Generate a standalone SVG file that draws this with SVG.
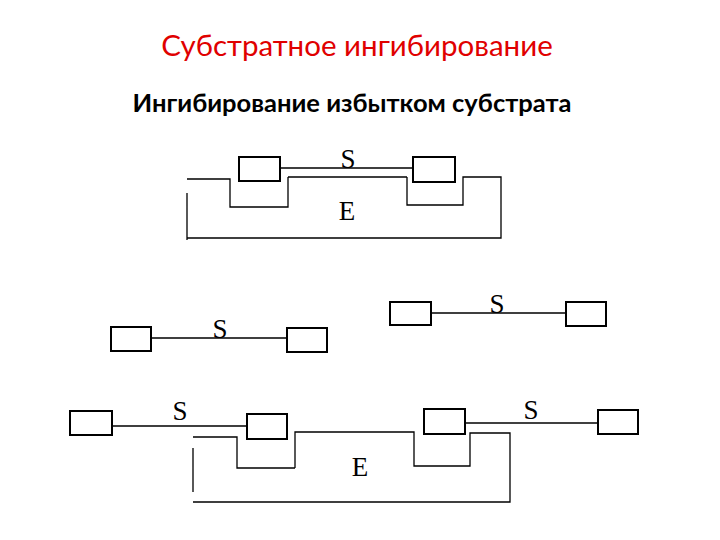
<svg xmlns="http://www.w3.org/2000/svg" width="720" height="540" viewBox="0 0 720 540">
<style>
.b{fill:#fff;stroke:#000;stroke-width:2}
.l{fill:none;stroke:#000;stroke-width:1.3}
.s{font-family:"Liberation Serif",serif;font-size:27px;fill:#000;text-anchor:middle}
</style>
<rect width="720" height="540" fill="#fff"/>
<text x="357" y="56" font-family="Lato,sans-serif" font-size="29.5" fill="#e00000" text-anchor="middle">Субстратное ингибирование</text>
<text x="352" y="112" font-family="Lato,sans-serif" font-size="25.5" font-weight="bold" fill="#000" text-anchor="middle">Ингибирование избытком субстрата</text>
<g id="connectors">
<path class="l" d="M280 168H413M288 177H407M300 177H320M187 179H230V207H288V177M407 177V205H463V177H501V238H187M187 193V240"/>
<path class="l" d="M151 338H287M431 313H566"/>
<path class="l" d="M112 426H247M295 468V432H414V466H470V433H510V502H193M193 448V492M193 437H237V468H295"/>
<path class="l" d="M465 423H600"/>
</g>
<g id="n1"><rect class="b" x="239" y="157" width="41" height="24"/></g>
<g id="n2"><rect class="b" x="413" y="157" width="42" height="25"/></g>
<g id="n3"><rect class="b" x="111" y="327" width="40" height="24"/></g>
<g id="n4"><rect class="b" x="287" y="328" width="40" height="24"/></g>
<g id="n5"><rect class="b" x="390" y="302" width="41" height="23"/></g>
<g id="n6"><rect class="b" x="566" y="302" width="40" height="24"/></g>
<g id="n7"><rect class="b" x="70" y="411" width="42" height="24"/></g>
<g id="n8"><rect class="b" x="247" y="414" width="40" height="25"/></g>
<g id="n9"><rect class="b" x="424" y="409" width="41" height="25"/></g>
<g id="n10"><rect class="b" x="598" y="410" width="40" height="24"/></g>
<g id="labels">
<text class="s" x="348" y="168">S</text>
<text class="s" x="347" y="220">E</text>
<text class="s" x="220" y="338">S</text>
<text class="s" x="497" y="313">S</text>
<text class="s" x="180" y="420">S</text>
<text class="s" x="531" y="419">S</text>
<text class="s" x="360" y="476">E</text>
</g>
</svg>
